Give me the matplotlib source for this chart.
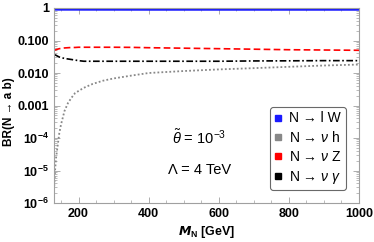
import matplotlib
matplotlib.use("Agg")
import matplotlib.pyplot as plt
from matplotlib.lines import Line2D
from matplotlib.ticker import FixedLocator, LogLocator, MultipleLocator, NullFormatter

plt.rcParams['font.family'] = ['Liberation Sans', 'DejaVu Sans']
plt.rcParams['mathtext.fontset'] = 'custom'
plt.rcParams['mathtext.rm'] = 'Liberation Sans'
plt.rcParams['mathtext.it'] = 'Liberation Sans:italic'
plt.rcParams['mathtext.bf'] = 'Liberation Sans:bold'

# heavy neutrino mass [GeV]
mass = [130, 133, 136, 140, 145, 150, 160, 170, 180, 190, 200, 215, 240,
        270, 300, 350, 400, 500, 600, 700, 800, 900, 1000]
br_lW = [0.913, 0.913, 0.913, 0.913, 0.913, 0.912, 0.912, 0.912, 0.912, 0.912,
         0.912, 0.911, 0.911, 0.910, 0.910, 0.909, 0.908, 0.908, 0.908, 0.908,
         0.908, 0.908, 0.908]
br_vh = [2.5e-6, 1.0e-5, 2.5e-5, 5.4e-5, 1.38e-4, 2.6e-4, 6.8e-4, 1.2e-3,
         1.74e-3, 2.4e-3, 2.8e-3, 3.5e-3, 4.6e-3, 5.8e-3, 6.8e-3, 8.3e-3,
         0.0100, 0.0115, 0.0129, 0.0141, 0.0155, 0.0170, 0.0182]
br_vZ = [0.050, 0.051, 0.052, 0.054, 0.056, 0.057, 0.059, 0.060, 0.061, 0.061,
         0.062, 0.062, 0.062, 0.062, 0.062, 0.0615, 0.060, 0.058, 0.056, 0.054,
         0.052, 0.051, 0.050]
br_vg = [0.037, 0.036, 0.035, 0.033, 0.031, 0.030, 0.028, 0.027, 0.026, 0.025,
         0.024, 0.023, 0.023, 0.023, 0.023, 0.023, 0.023, 0.023, 0.023, 0.0235,
         0.0237, 0.024, 0.024]

fig = plt.figure(figsize=(3.74, 2.42), dpi=100)
ax = fig.add_axes([54 / 374, 1 - 203 / 242, 305 / 374, 195 / 242])

ax.plot(mass, br_lW, color='#1a1aff', lw=2.0, solid_capstyle='butt')
ax.plot(mass, br_vh, color='#888888', lw=1.3, ls=(0, (1, 1.2)))
ax.plot(mass, br_vZ, color='#ff0000', lw=1.2, ls=(0, (4, 2)))
ax.plot(mass, br_vg, color='black', lw=1.2, ls=(0, (4, 1.5, 1, 1.5)))

ax.set_yscale('log')
ax.set_xlim(130, 1000)
ax.set_ylim(1e-6, 1.0)

yt = [1, 0.1, 0.01, 0.001, 1e-4, 1e-5, 1e-6]
yl = ['1', '0.100', '0.010', '0.001', r'$\mathbf{10^{-4}}$', r'$\mathbf{10^{-5}}$',
      r'$\mathbf{10^{-6}}$']
ax.yaxis.set_major_locator(FixedLocator(yt))
ax.set_yticklabels(yl)
ax.yaxis.set_minor_locator(LogLocator(base=10, subs=range(2, 10), numticks=20))
ax.yaxis.set_minor_formatter(NullFormatter())
ax.xaxis.set_major_locator(FixedLocator([200, 400, 600, 800, 1000]))
ax.xaxis.set_minor_locator(MultipleLocator(50))

for s in ax.spines.values():
    s.set_color('#a0a0a0')
    s.set_linewidth(0.8)
ax.tick_params(which='both', direction='in', top=True, right=True,
               color='#a0a0a0', labelsize=9)
ax.tick_params(which='major', length=4, width=0.6)
ax.tick_params(which='minor', length=2, width=0.5)
for lab in ax.get_xticklabels() + ax.get_yticklabels():
    lab.set_fontweight('bold')

ax.set_xlabel(r'$\mathbfit{M}_{\mathbf{N}}$ [GeV]', fontsize=9, fontweight='bold',
              labelpad=3)
ax.set_ylabel('BR(N → a b)', fontsize=8.5, fontweight='bold')
ax.yaxis.set_label_coords(-0.128, 0.467)

ax.text(545, 10 ** -3.98, r'$\tilde{\theta}$ = 10$^{-3}$', fontsize=10.5,
        ha='center', va='center')
ax.text(545, 10 ** -4.97, 'Λ = 4 TeV', fontsize=10.5, ha='center', va='center')

handles = [
    Line2D([], [], ls='none', marker='s', ms=4, color='#1a1aff'),
    Line2D([], [], ls='none', marker='s', ms=4, color='#888888'),
    Line2D([], [], ls='none', marker='s', ms=4, color='#ff0000'),
    Line2D([], [], ls='none', marker='s', ms=4, color='black'),
]
labels = ['N → l W', r'N → $\mathit{\nu}$ h',
          r'N → $\mathit{\nu}$ Z', r'N → $\mathit{\nu}$ $\mathit{\gamma}$']
leg = ax.legend(handles, labels, loc='lower right', bbox_to_anchor=(0.98, 0.03),
                fontsize=10, handlelength=0.6, handletextpad=0.5,
                labelspacing=0.35, borderpad=0.3, frameon=True, fancybox=True)
leg.get_frame().set_edgecolor('#444444')
leg.get_frame().set_linewidth(0.8)

fig.savefig('out.png', dpi=100)
